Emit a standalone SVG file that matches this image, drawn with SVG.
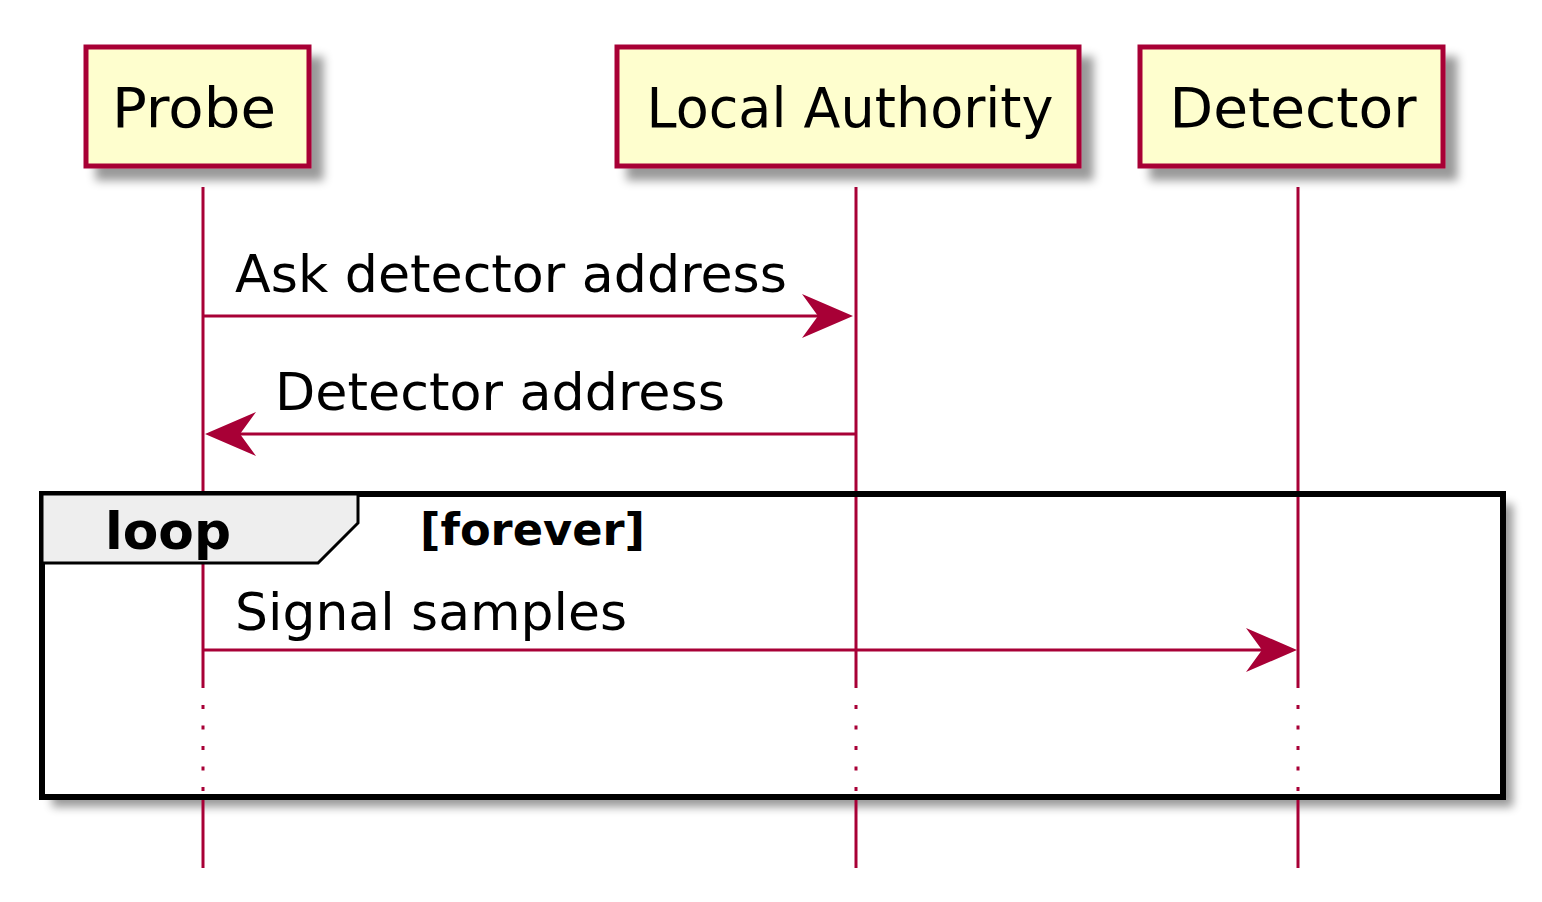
<svg xmlns="http://www.w3.org/2000/svg" width="1542" height="902" viewBox="0 0 1542 902">
<style>
.box{fill:#FEFECE;stroke:#A80036;stroke-width:5}
.pt{font-family:"DejaVu Sans",sans-serif;font-size:56px;fill:#000;text-anchor:middle}
.life{stroke:#A80036;stroke-width:3;fill:none}
.dot{stroke:#A80036;stroke-width:3;fill:none;stroke-dasharray:4 16.5}
.msg{stroke:#A80036;stroke-width:3;fill:none}
.head{fill:#A80036}
.mt{font-family:"DejaVu Sans",sans-serif;font-size:52px;fill:#000}
.bold{font-family:"DejaVu Sans",sans-serif;font-weight:bold;fill:#000}
</style>
<defs>
<filter id="sh" x="-20%" y="-20%" width="150%" height="150%">
<feDropShadow dx="12" dy="12" stdDeviation="5" flood-color="#000" flood-opacity="0.4"/>
</filter>
<filter id="blur" x="-10%" y="-10%" width="120%" height="130%">
<feGaussianBlur stdDeviation="5"/>
</filter>
</defs>
<rect width="1542" height="902" fill="#fff"/>

<!-- loop frame shadow and background -->
<rect x="52" y="504" width="1461" height="303" fill="#000" opacity="0.4" filter="url(#blur)"/>
<rect x="42" y="494" width="1461" height="303" fill="#fff"/>

<g id="lifelines">
<line class="life" x1="203" y1="187" x2="203" y2="688"/>
<line class="dot" x1="203" y1="705" x2="203" y2="795"/>
<line class="life" x1="203" y1="795" x2="203" y2="868"/>
<line class="life" x1="856" y1="187" x2="856" y2="688"/>
<line class="dot" x1="856" y1="705" x2="856" y2="795"/>
<line class="life" x1="856" y1="795" x2="856" y2="868"/>
<line class="life" x1="1298" y1="187" x2="1298" y2="688"/>
<line class="dot" x1="1298" y1="705" x2="1298" y2="795"/>
<line class="life" x1="1298" y1="795" x2="1298" y2="868"/>
</g>

<g id="probe">
<rect class="box" x="86" y="47" width="223" height="119" filter="url(#sh)"/>
<text class="pt" x="194" y="127" textLength="164" lengthAdjust="spacingAndGlyphs">Probe</text>
</g>
<g id="local-authority">
<rect class="box" x="617" y="47" width="462" height="119" filter="url(#sh)"/>
<text class="pt" x="850" y="127" textLength="407" lengthAdjust="spacingAndGlyphs">Local Authority</text>
</g>
<g id="detector">
<rect class="box" x="1140" y="47" width="303" height="119" filter="url(#sh)"/>
<text class="pt" x="1293" y="127" textLength="247" lengthAdjust="spacingAndGlyphs">Detector</text>
</g>

<g id="loop">
<rect x="42" y="494" width="1461" height="303" fill="none" stroke="#000" stroke-width="6"/>
<polygon points="42,494 358,494 358,523 318,563 42,563" fill="#EEEEEE" stroke="#000" stroke-width="3"/>
<text class="bold" x="105" y="549" font-size="51" textLength="126" lengthAdjust="spacingAndGlyphs">loop</text>
<text class="bold" x="420" y="545" font-size="45" textLength="225" lengthAdjust="spacingAndGlyphs">[forever]</text>
</g>

<g id="connectors">
<line class="msg" x1="203" y1="316" x2="840" y2="316"/>
<polygon class="head" points="853,316 802,294 818,316 802,338"/>
<text class="mt" x="235" y="292" textLength="552" lengthAdjust="spacingAndGlyphs">Ask detector address</text>

<line class="msg" x1="218" y1="434" x2="856" y2="434"/>
<polygon class="head" points="205,434 256,412 240,434 256,456"/>
<text class="mt" x="275" y="410" textLength="450" lengthAdjust="spacingAndGlyphs">Detector address</text>

<line class="msg" x1="203" y1="650" x2="1285" y2="650"/>
<polygon class="head" points="1297,650 1246,628 1262,650 1246,672"/>
<text class="mt" x="235" y="630" textLength="392" lengthAdjust="spacingAndGlyphs">Signal samples</text>
</g>
</svg>
